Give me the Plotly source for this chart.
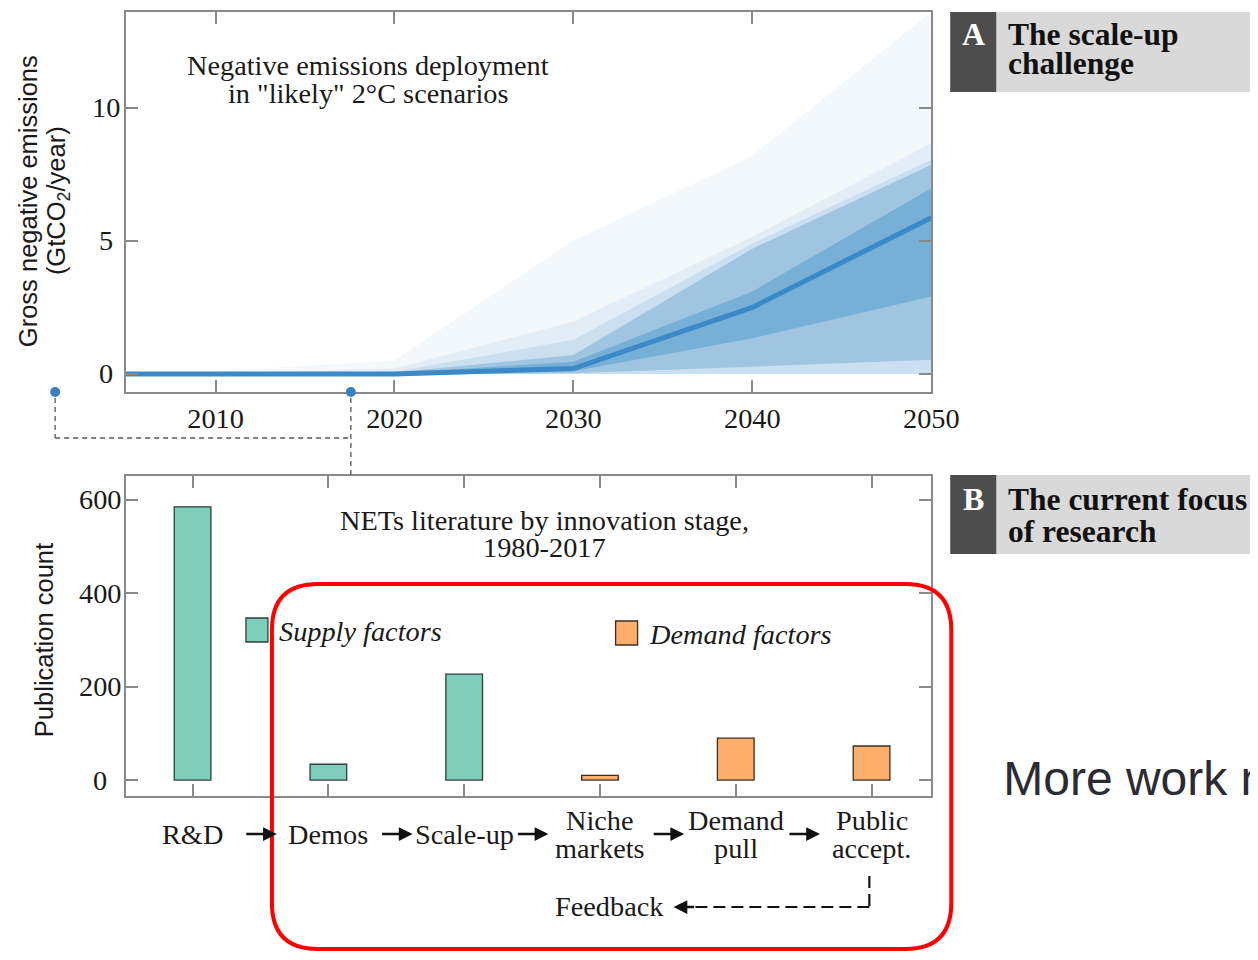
import plotly.graph_objects as go

# page geometry: 8px body margin; horizontal capture factor of the viewer
OFF = 8
SX = 0.979
W, H = 1277, 960 - 2 * OFF

# ---------------- Panel A data (GtCO2/year) ----------------
years = [2005, 2010, 2020, 2030, 2040, 2050]
band1_hi = [0.02, 0.1, 0.5, 5.0, 8.2, 13.6]
band1_lo = [0, 0, 0, 0, 0, 0]
band2_hi = [0.0, 0.02, 0.2, 1.97, 5.15, 8.67]
band2_lo = [0, 0, 0, 0, 0, 0]
band3_hi = [0, 0, 0.08, 1.28, 4.9, 8.05]
band3_lo = [0, 0, 0, 0, 0, 0]
band4_hi = [0, 0, 0.05, 0.71, 4.7, 7.86]
band4_lo = [0, 0, 0, 0.02, 0.28, 0.53]
band5_hi = [0, 0, 0.02, 0.46, 3.1, 6.98]
band5_lo = [0, 0, 0, 0.1, 1.34, 2.91]
median = [0, 0, 0, 0.2, 2.5, 5.87]
year_ticks = [2010, 2020, 2030, 2040, 2050]
emis_ticks = [0, 5, 10]

# ---------------- Panel B data (publication count) ----------------
stages = ["R&D", "Demos", "Scale-up", "Niche markets", "Demand pull", "Public accept."]
counts = [585, 34, 227, 10, 90, 73]
supply_stages = stages[:3]
supply_counts = counts[:3]
demand_stages = stages[3:]
demand_counts = counts[3:]
pub_ticks = [0, 200, 400, 600]

side_note = "More work needed"

band_colors = ["#f3f8fc", "#e2edf7", "#cadff0", "#9fc5e1", "#76b0d6"]
median_color = "#3b8ac7"
supply_color = "#7fcdbb"
demand_color = "#fdae6b"
SERIF = "Liberation Serif"
SANS = "Liberation Sans"
FS = 28.3


def PX(x):
    return min(1.0, (x / SX - OFF) / W)


def PY(y):
    return 1 - (y - OFF) / H


fig = go.Figure()

bands = [(band1_lo, band1_hi), (band2_lo, band2_hi), (band3_lo, band3_hi),
         (band4_lo, band4_hi), (band5_lo, band5_hi)]
for (lo, hi), col in zip(bands, band_colors):
    fig.add_trace(go.Scatter(
        x=years + years[::-1], y=hi + lo[::-1], fill="toself", fillcolor=col,
        line=dict(width=0), mode="lines", hoverinfo="skip", showlegend=False,
        xaxis="x", yaxis="y"))
fig.add_trace(go.Scatter(x=years, y=median, mode="lines",
                         line=dict(color=median_color, width=5),
                         showlegend=False, xaxis="x", yaxis="y"))

fig.add_trace(go.Bar(x=supply_stages, y=supply_counts, width=0.27,
                     marker=dict(color=supply_color, line=dict(color="#2f3f3a", width=1.3)),
                     showlegend=False, xaxis="x2", yaxis="y2"))
fig.add_trace(go.Bar(x=demand_stages, y=demand_counts, width=0.27,
                     marker=dict(color=demand_color, line=dict(color="#3a2f25", width=1.3)),
                     showlegend=False, xaxis="x2", yaxis="y2"))

# side note, clipped at the right edge of the page like the reference
fig.add_trace(go.Scatter(x=[0.0], y=[0.5], mode="text", text=[side_note],
                         textposition="middle right", cliponaxis=True, hoverinfo="skip",
                         textfont=dict(family=SANS, size=48, color="#2b2b35"),
                         showlegend=False, xaxis="x3", yaxis="y3"))

axis_common = dict(showline=True, linecolor="#8a8a8a", linewidth=2, mirror="ticks",
                   ticks="inside", ticklen=12, tickcolor="#8a8a8a", tickwidth=1.5,
                   showgrid=False, zeroline=False,
                   tickfont=dict(family=SERIF, size=FS, color="#1a1a1a"))

xd = [PX(126), PX(932)]
fig.update_layout(
    width=W, height=H, margin=dict(l=0, r=0, t=0, b=0),
    paper_bgcolor="white", plot_bgcolor="white", showlegend=False,
    xaxis=dict(domain=xd, range=[2005, 2050], tickvals=year_ticks,
               ticklabelstandoff=0, anchor="y", **axis_common),
    yaxis=dict(domain=[PY(392), PY(12)], range=[-0.68, 13.6], tickvals=emis_ticks,
               showticklabels=False, anchor="x", **axis_common),
    xaxis2=dict(domain=xd, type="category", categoryarray=stages, categoryorder="array",
                range=[-0.49, 5.44], showticklabels=False, anchor="y2", **axis_common),
    yaxis2=dict(domain=[PY(796), PY(476)], range=[-34, 651], tickvals=pub_ticks,
                showticklabels=False, anchor="x2", **axis_common),
    xaxis3=dict(domain=[PX(1004), 1.0], range=[0, 1], visible=False, fixedrange=True,
                anchor="y3"),
    yaxis3=dict(domain=[PY(830), PY(735)], range=[0, 1], visible=False, fixedrange=True,
                anchor="x3"),
)

ann = []
shapes = []


def text(x, y, s, size=FS, family=SERIF, color="#1a1a1a", xanchor="center", **kw):
    ann.append(dict(x=PX(x), y=PY(y), xref="paper", yref="paper", text=s, showarrow=False,
                    xanchor=xanchor, yanchor="middle",
                    font=dict(family=family, size=size, color=color), **kw))


# y tick labels, centred in the label column as in the reference
for v in emis_ticks:
    ann.append(dict(x=PX(106), y=v, xref="paper", yref="y", text=str(v), showarrow=False,
                    xanchor="center", yanchor="middle",
                    font=dict(family=SERIF, size=FS, color="#1a1a1a")))
for v in pub_ticks:
    ann.append(dict(x=PX(100), y=v, xref="paper", yref="y2", text=str(v), showarrow=False,
                    xanchor="center", yanchor="middle",
                    font=dict(family=SERIF, size=FS, color="#1a1a1a")))

# Panel A title and axis title
text(368, 66, "Negative emissions deployment")
text(368, 94, "in \"likely\" 2°C scenarios")
text(28, 201, "Gross negative emissions", size=25.5, family=SANS, textangle=-90)
text(58, 201, "(GtCO<sub>2</sub>/year)", size=25.5, family=SANS, textangle=-90)

# Panel B title and axis title
text(545, 520, "NETs literature by innovation stage,")
text(545, 547, "1980-2017")
text(44, 640, "Publication count", size=25.5, family=SANS, textangle=-90)

# Stage labels (through the category axis)
for s in stages:
    lines = s.split(" ")
    if len(lines) == 1:
        ann.append(dict(x=s, y=PY(834), xref="x2", yref="paper", text=lines[0], showarrow=False,
                        yanchor="middle", font=dict(family=SERIF, size=FS, color="#1a1a1a")))
    else:
        for j, ln in enumerate(lines):
            ann.append(dict(x=s, y=PY(820 + 28 * j), xref="x2", yref="paper", text=ln,
                            showarrow=False, yanchor="middle",
                            font=dict(family=SERIF, size=FS, color="#1a1a1a")))

# arrows between stages
for i in range(len(stages) - 1):
    ann.append(dict(x=i + 0.5 + 0.12, y=PY(834), xref="x2", yref="paper", text="",
                    showarrow=True, ax=-32, ay=0, arrowhead=2, arrowsize=1.1,
                    arrowwidth=2.5, arrowcolor="#111"))

# Feedback loop
text(610, 906, "Feedback")
dash_fb = "12px,6px"
shapes.append(dict(type="line", xref="paper", yref="paper", x0=PX(870), y0=PY(876),
                   x1=PX(870), y1=PY(907), line=dict(color="#111", width=2.2, dash=dash_fb)))
shapes.append(dict(type="line", xref="paper", yref="paper", x0=PX(870), y0=PY(907),
                   x1=PX(690), y1=PY(907), line=dict(color="#111", width=2.2, dash=dash_fb)))
ann.append(dict(x=PX(674), y=PY(907), xref="paper", yref="paper", text="", showarrow=True,
                ax=22, ay=0, arrowhead=2, arrowsize=1.1, arrowwidth=2.5, arrowcolor="#111"))

# Manual legend
shapes.append(dict(type="rect", xref="paper", yref="paper", x0=PX(246), x1=PX(268),
                   y0=PY(642), y1=PY(618), fillcolor=supply_color,
                   line=dict(color="#2f3f3a", width=1.3)))
text(277, 631, "<i>Supply factors</i>", xanchor="left")
shapes.append(dict(type="rect", xref="paper", yref="paper", x0=PX(616), x1=PX(638),
                   y0=PY(645), y1=PY(621), fillcolor=demand_color,
                   line=dict(color="#3a2f25", width=1.3)))
text(647, 634, "<i>Demand factors</i>", xanchor="left")

# Connectors between the panels
for cx in (55, 351):
    shapes.append(dict(type="circle", xref="paper", yref="paper", x0=PX(cx - 5), x1=PX(cx + 5),
                       y0=PY(397), y1=PY(387), fillcolor="#3a7fbf", line=dict(width=0)))
dash_c = "5px,4px"
for (x0, y0, x1, y1) in [(55, 398, 55, 438), (55, 438, 351, 438), (351, 398, 351, 476)]:
    shapes.append(dict(type="line", xref="paper", yref="paper", x0=PX(x0), y0=PY(y0),
                       x1=PX(x1), y1=PY(y1), line=dict(color="#555", width=1.3, dash=dash_c)))

# Side labels A and B
for (y0, y1, letter, l1, l2, t1, t2) in [(12, 92, "A", "The scale-up", "challenge", 34, 64),
                                         (475, 554, "B", "The current focus", "of research", 499, 531)]:
    shapes.append(dict(type="rect", xref="paper", yref="paper", x0=PX(951), x1=1.0,
                       y0=PY(y1), y1=PY(y0), fillcolor="#d9d9d9", line=dict(width=0)))
    shapes.append(dict(type="rect", xref="paper", yref="paper", x0=PX(951), x1=PX(997),
                       y0=PY(y1), y1=PY(y0), fillcolor="#4d4d4d", line=dict(width=0)))
    text(974, t1, "<b>%s</b>" % letter, size=32, color="white")
    text(1007, t1, "<b>%s</b>" % l1, size=31.5, color="#111", xanchor="left")
    text(1007, t2, "<b>%s</b>" % l2, size=31.5, color="#111", xanchor="left")

# Red rounded highlight
x0, x1, y0, y1, r = 272, 952, 584, 949, 46
path = (f"M {PX(x0 + r)},{PY(y0)} L {PX(x1 - r)},{PY(y0)} "
        f"Q {PX(x1)},{PY(y0)} {PX(x1)},{PY(y0 + r)} L {PX(x1)},{PY(y1 - r)} "
        f"Q {PX(x1)},{PY(y1)} {PX(x1 - r)},{PY(y1)} L {PX(x0 + r)},{PY(y1)} "
        f"Q {PX(x0)},{PY(y1)} {PX(x0)},{PY(y1 - r)} L {PX(x0)},{PY(y0 + r)} "
        f"Q {PX(x0)},{PY(y0)} {PX(x0 + r)},{PY(y0)} Z")
shapes.append(dict(type="path", xref="paper", yref="paper", path=path,
                   line=dict(color="#ff0000", width=4)))

fig.update_layout(annotations=ann, shapes=shapes)
fig.write_html("out.html")
